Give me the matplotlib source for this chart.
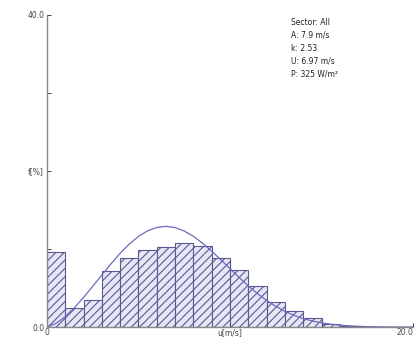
import matplotlib
matplotlib.use("Agg")
import matplotlib.pyplot as plt
import numpy as np

# Observed frequency per 1 m/s bin (%)
bin_left = list(range(0, 20))
freq = [9.6, 2.4, 3.5, 7.2, 8.8, 9.9, 10.3, 10.8, 10.4, 8.8,
        7.3, 5.3, 3.2, 2.0, 1.1, 0.45, 0.18, 0.07, 0.03, 0.01]

# Fitted Weibull curve (%)
curve_u = [0, 0.5, 1, 1.5, 2, 2.5, 3, 3.5, 4, 4.5, 5, 5.5, 6, 6.5, 7, 7.5, 8, 8.5,
           9, 9.5, 10, 10.5, 11, 11.5, 12, 12.5, 13, 13.5, 14, 14.5, 15, 15.5,
           16, 16.5, 17, 17.5, 18, 18.5, 19, 19.5, 20]
curve_f = [0, 0.47, 1.35, 2.48, 3.8, 5.22, 6.68, 8.11, 9.46, 10.64, 11.62, 12.34,
           12.77, 12.91, 12.75, 12.31, 11.63, 10.75, 9.73, 8.62, 7.48, 6.35, 5.27,
           4.29, 3.41, 2.66, 2.02, 1.5, 1.09, 0.78, 0.54, 0.37, 0.24, 0.16, 0.1,
           0.06, 0.036, 0.02, 0.012, 0.007, 0.004]

info_lines = ["Sector: All", "A: 7.9 m/s", "k: 2.53", "U: 6.97 m/s", "P: 325 W/m\u00b2"]

x_ticks = [0, 5, 10, 15, 20]
x_labels = ["0", "", "u[m/s]", "", "20.0"]
y_ticks = [0, 10, 20, 30, 40]
y_labels = ["0.0", "", "f[%]", "", "40.0"]

plt.rcParams['hatch.color'] = '#8c8cd0'
plt.rcParams['hatch.linewidth'] = 0.8

fig = plt.figure(figsize=(4.19, 3.40), dpi=100)
ax = fig.add_axes([0.112, 0.038, 0.874, 0.918])

ax.bar(bin_left, freq, width=1.0, align='edge', color='#e6e6f6',
       edgecolor='#5a5a90', linewidth=0.8, hatch='////')
ax.plot(curve_u, curve_f, color='#6a6ac4', linewidth=0.9)

ax.set_xlim(0, 20)
ax.set_ylim(0, 40)
ax.set_xticks(x_ticks)
ax.set_xticklabels(x_labels)
ax.set_yticks(y_ticks)
ax.set_yticklabels(y_labels)
ax.tick_params(axis='both', labelsize=5.5, colors='#444444', direction='in',
               length=3, width=0.7, pad=2)
ax.tick_params(axis='x', pad=1)
xl = ax.get_xticklabels()
xl[-1].set_horizontalalignment('right')

for s in ['top', 'right']:
    ax.spines[s].set_visible(False)
for s in ['left', 'bottom']:
    ax.spines[s].set_color('#888888')
    ax.spines[s].set_linewidth(1.0)

ax.text(13.35, 39.6, "\n".join(info_lines), fontsize=5.5, color='#222222',
        va='top', ha='left', linespacing=1.55)

fig.savefig("out.png", dpi=100)
